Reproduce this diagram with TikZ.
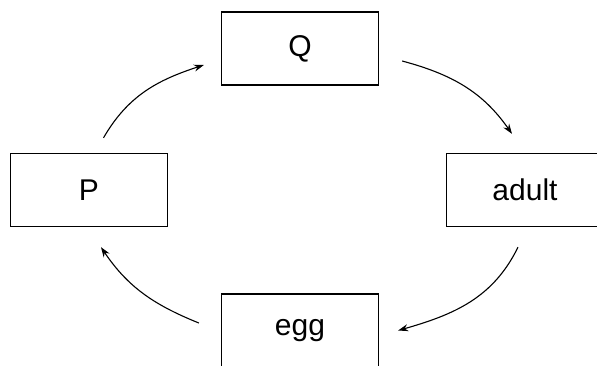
\documentclass[tikz,border=0pt]{standalone}
\usepackage{fontspec}
\setmainfont{Liberation Sans}
\usetikzlibrary{arrows.meta}
\tikzset{
    stage/.style={draw, line width=1.3pt, minimum width=157pt, minimum height=73pt, inner sep=0pt, font=\fontsize{30}{30}\selectfont},
    cycle/.style={line width=1.1pt, -{Stealth[length=10pt,width=7pt]}}
}
\begin{document}
\begin{tikzpicture}[x=1pt,y=1pt]
                \clip (0,0) rectangle (597,365);
                
                \node[stage] (Q) at (300,316.5) {Q};
                \node[stage] (P) at (89,175) {P};
                \node[stage] (adult) at (525,175) {adult};
                \node[stage] (egg) at (300,34.5) {egg};
                
                \draw[cycle] ([shift={(14.5,15)}]P.north) to[out=60,in=198] ([shift={(-17,-16.5)}]Q.west);
                \draw[cycle] ([shift={(23,-12.5)}]Q.east) to[out=-15,in=125] ([shift={(-13,19)}]adult.north);
                \draw[cycle] ([shift={(-7,-20)}]adult.south) to[out=-116,in=16] ([shift={(19,0)}]egg.east);
                \draw[cycle] ([shift={(-22,7.5)}]egg.west) to[out=158,in=304] ([shift={(12,-20)}]P.south);
            \end{tikzpicture}
\end{document}
